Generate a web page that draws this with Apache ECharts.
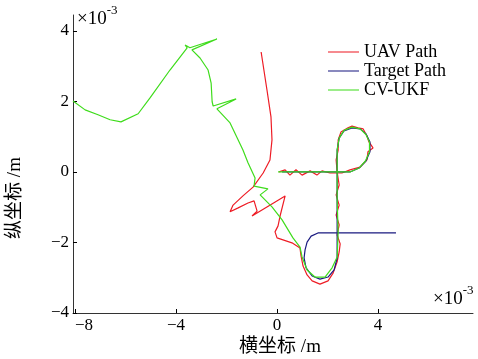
<!DOCTYPE html>
<html>
<head>
<meta charset="utf-8">
<script src="https://cdn.jsdelivr.net/npm/echarts@6/dist/echarts.min.js"></script>
<style>
  html, body { margin: 0; padding: 0; background: #fff; }
  #main { width: 478px; height: 359px; }
</style>
</head>
<body>
<div id="main"></div>
<script>
// values in units of 1e-3 m
var seriesNames = ['UAV Path', 'Target Path', 'CV-UKF'];
var xTicks = [-8, -4, 0, 4];
var yTicks = [-4, -2, 0, 2, 4];

var uavPath = [
	[-0.63, 3.40], [-0.40, 2.33], [-0.24, 1.56], [-0.20, 0.91], [-0.28, 0.34],
	[-0.55, -0.03], [-0.95, -0.43], [-1.35, -0.68], [-1.74, -0.94], [-1.86, -1.13],
	[-1.54, -1.02], [-1.15, -0.88], [-0.91, -0.82], [-0.79, -1.11], [-0.99, -1.25],
	[0.32, -0.68], [0.12, -1.25], [0.04, -1.53], [-0.08, -1.70], [0.00, -1.87],
	[0.59, -2.01], [0.91, -2.16], [0.95, -2.38], [1.03, -2.67], [1.19, -2.92],
	[1.39, -3.09], [1.70, -3.18], [2.02, -3.09], [2.22, -2.87], [2.38, -2.55],
	[2.46, -2.27], [2.50, -2.04], [2.38, -1.79], [2.46, -1.50], [2.34, -1.22],
	[2.46, -0.94], [2.34, -0.65], [2.46, -0.37], [2.38, 0.00], [2.34, 0.34],
	[2.42, 0.62], [2.42, 0.91], [2.53, 1.13], [2.81, 1.25], [2.97, 1.30],
	[3.21, 1.25], [3.41, 1.22], [3.56, 1.02], [3.64, 0.85], [3.80, 0.68],
	[3.60, 0.57], [3.56, 0.34], [3.29, 0.14], [2.89, 0.06], [2.57, -0.03],
	[2.10, -0.03], [1.78, 0.03], [1.58, -0.09], [1.31, 0.03], [0.99, -0.09],
	[0.75, 0.06], [0.51, -0.09], [0.32, 0.06], [0.08, 0.00]
];

var targetPath = [
	[4.71, -1.73], [1.62, -1.73], [1.35, -1.82], [1.19, -1.99], [1.11, -2.21],
	[1.07, -2.44], [1.15, -2.72], [1.39, -2.95], [1.70, -3.04], [2.02, -2.98],
	[2.26, -2.78], [2.38, -2.44], [2.38, -1.73], [2.38, -0.79], [2.38, 0.00],
	[2.38, 0.62], [2.46, 0.96], [2.65, 1.16], [2.97, 1.25], [3.29, 1.22],
	[3.52, 1.08], [3.68, 0.85], [3.68, 0.57], [3.52, 0.31], [3.25, 0.11],
	[2.89, 0.00], [2.38, 0.00], [0.20, 0.00]
];

var ukfPath = [
	[-8.08, 2.01], [-7.60, 1.76], [-7.09, 1.62], [-6.61, 1.48], [-6.18, 1.42],
	[-5.50, 1.65], [-5.03, 2.10], [-4.24, 2.89], [-3.56, 3.52], [-3.64, 3.60],
	[-3.45, 3.52], [-2.38, 3.77], [-3.37, 3.46], [-3.05, 3.23], [-2.73, 2.89],
	[-2.61, 2.52], [-2.57, 1.99], [-2.53, 1.87], [-1.62, 2.07], [-2.38, 1.79],
	[-1.86, 1.39], [-1.35, 0.62], [-1.15, 0.26], [-0.87, -0.17], [-0.91, -0.40],
	[-0.36, -0.48], [-0.67, -0.65], [-0.20, -0.99], [0.20, -1.36], [0.63, -1.87],
	[0.91, -2.13], [0.99, -2.41], [1.19, -2.78], [1.50, -2.98], [1.90, -2.98],
	[2.18, -2.72], [2.38, -2.41], [2.42, -1.73], [2.38, -0.79], [2.38, 0.00],
	[2.38, 0.62], [2.46, 0.96], [2.65, 1.18], [2.97, 1.27], [3.29, 1.22],
	[3.52, 1.06], [3.66, 0.85], [3.66, 0.57], [3.50, 0.31], [3.25, 0.11],
	[2.89, 0.00], [2.38, 0.00], [0.04, 0.00]
];

var fontMix = '"Liberation Serif", "Noto Sans CJK SC", serif';

function minusFmt(v) {
	return v < 0 ? '\u2212' + (-v) : '' + v;
}

var chart = echarts.init(document.getElementById('main'));
var option = {
	animation : false,
	backgroundColor : '#fff',
	grid : {
		left : 73,
		top : 15,
		right : 5,
		bottom : 46
	},
	legend : {
		orient : 'vertical',
		left : 328,
		top : 43,
		padding : 0,
		itemWidth : 31,
		itemHeight : 14,
		itemGap : 1,
		icon : 'path://M0,0 L30,0 L30,1 L0,1 Z',
		data : seriesNames,
		textStyle : {
			fontFamily : fontMix,
			fontSize : 18,
			color : '#000'
		}
	},
	xAxis : {
		type : 'value',
		min : -8.08,
		max : 7.76,
		splitLine : { show : false },
		axisLine : { onZero : false, lineStyle : { color : '#333', width : 1 } },
		axisTick : { inside : true, length : 4, customValues : xTicks, lineStyle : { color : '#000' } },
		axisLabel : {
			customValues : xTicks,
			alignMinLabel : 'left',
			margin : 4,
			color : '#000',
			fontFamily : fontMix,
			fontSize : 17,
			formatter : minusFmt
		}
	},
	yAxis : {
		type : 'value',
		min : -4,
		max : 4.45,
		splitLine : { show : false },
		axisLine : { onZero : false, lineStyle : { color : '#333', width : 1 } },
		axisTick : { inside : true, length : 4, customValues : yTicks, lineStyle : { color : '#000' } },
		axisLabel : {
			customValues : yTicks,
			margin : 4,
			color : '#000',
			fontFamily : fontMix,
			fontSize : 17,
			formatter : minusFmt
		}
	},
	graphic : [
		{
			type : 'text', left : 77, top : 4,
			style : {
				text : '{a|\u00d710}{b|-3}',
				rich : {
					a : { fontFamily : fontMix, fontSize : 19, fill : '#000', padding : [6, 0, 0, 0] },
					b : { fontFamily : fontMix, fontSize : 13, fill : '#000', verticalAlign : 'top' }
				}
			}
		},
		{
			type : 'text', left : 433, top : 284,
			style : {
				text : '{a|\u00d710}{b|-3}',
				rich : {
					a : { fontFamily : fontMix, fontSize : 19, fill : '#000', padding : [6, 0, 0, 0] },
					b : { fontFamily : fontMix, fontSize : 13, fill : '#000', verticalAlign : 'top' }
				}
			}
		},
		{
			type : 'text', x : 280, y : 347,
			style : {
				text : '横坐标 /m', fontFamily : fontMix, fontSize : 19, fill : '#000',
				align : 'center', verticalAlign : 'middle'
			}
		},
		{
			type : 'text', x : 15, y : 198, rotation : Math.PI / 2,
			style : {
				text : '纵坐标 /m', fontFamily : fontMix, fontSize : 19, fill : '#000',
				align : 'center', verticalAlign : 'middle'
			}
		}
	],
	series : [ {
		name : seriesNames[0],
		type : 'line',
		symbol : 'none',
		data : uavPath,
		lineStyle : { color : '#ee1c25', width : 1.2 },
		itemStyle : { color : '#ee1c25' },
		z : 2
	}, {
		name : seriesNames[1],
		type : 'line',
		symbol : 'none',
		data : targetPath,
		lineStyle : { color : '#1a1a80', width : 1.2 },
		itemStyle : { color : '#1a1a80' },
		z : 3
	}, {
		name : seriesNames[2],
		type : 'line',
		symbol : 'none',
		data : ukfPath,
		lineStyle : { color : '#3fdc1c', width : 1.2 },
		itemStyle : { color : '#3fdc1c' },
		z : 4
	} ]
};
chart.setOption(option);
</script>
</body>
</html>
